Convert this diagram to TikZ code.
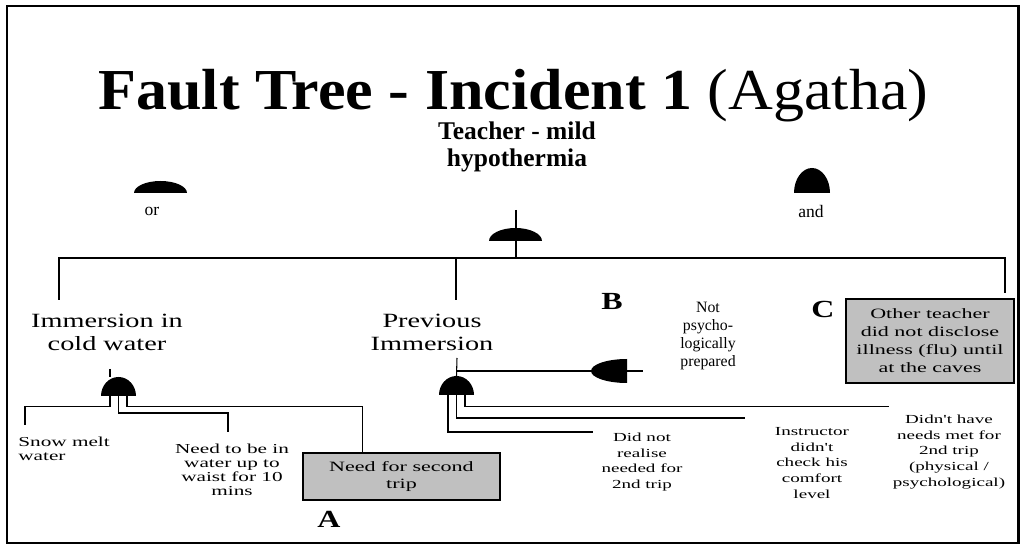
\documentclass[tikz,border=0pt]{standalone}
\usepackage{fontspec}
\setmainfont{Liberation Serif}
\newfontfamily\widefont[FakeStretch=1.55]{Liberation Serif}
\newfontfamily\labelfont[FakeStretch=1.4]{Liberation Serif}
\newfontfamily\letterfont[FakeStretch=1.3]{Liberation Serif}
\newfontfamily\titlefont[FakeStretch=1.07]{Liberation Serif}
\usetikzlibrary{calc}
\usetikzlibrary{positioning}
\definecolor{boxgrey}{RGB}{192,192,192}
\tikzset{
  wire/.style={
    draw=black,
    line width=0.6pt,
  },
  frame/.style={
    draw=black,
    line width=1.7pt,
  },
  titletext/.style={
    inner sep=0pt,
    font=\titlefont\fontsize{33}{36}\selectfont
  },
  headtext/.style={
    align=center,
    inner sep=0pt,
    font=\bfseries\fontsize{14.5}{15.5}\selectfont
  },
  legendtext/.style={
    inner sep=0pt,
    font=\fontsize{10}{12}\selectfont
  },
  mainlabel/.style={
    align=center,
    inner sep=0pt,
    font=\labelfont\fontsize{11.5}{13}\selectfont
  },
  leftlabel/.style={
    align=center,
    inner sep=0pt,
    font=\widefont\fontsize{7.8}{7.9}\selectfont
  },
  rightlabel/.style={
    align=center,
    inner sep=0pt,
    font=\widefont\fontsize{7}{8.9}\selectfont
  },
  plainlabel/.style={
    align=center,
    inner sep=0pt,
    font=\fontsize{9}{10.4}\selectfont
  },
  greybox/.style={
    draw=black,
    fill=boxgrey,
    line width=0.6pt,
    align=center,
    inner sep=0pt,
    font=\widefont\fontsize{8.1}{10.2}\selectfont
  },
  letter/.style={
    inner sep=0pt,
    font=\letterfont\bfseries\fontsize{14}{14}\selectfont
  },
  pics/gate/.style 2 args={code={
    \fill (-#1/2,0) .. controls (-#1/2,-0.552*#2) and (-0.276*#1,-#2) .. (0,-#2)
      .. controls (0.276*#1,-#2) and (#1/2,-0.552*#2) .. (#1/2,0) -- cycle;
    \coordinate (-top) at (0,-#2);
    \coordinate (-a) at (-8.5,0);
    \coordinate (-b) at (0,0);
    \coordinate (-c) at (8.5,0);
  }},
}

\begin{document}
\begin{tikzpicture}[x=0.02cm, y=-0.02cm]
  \useasboundingbox (0,0) rectangle (1021,550);
  \draw[frame] (7,6) rectangle (1018,543);

  \node[titletext, anchor=base west] (title) at (98,110) {\bfseries Fault Tree - Incident 1};
  \node[titletext, anchor=base west, xshift=8.5pt] (agatha) at (title.base east) {(Agatha)};
  \node[headtext] (teacher) at (517,147) {Teacher - mild\\hypothermia};

  % legend
  \pic (legor) at (160.5,193) {gate={53}{12}};
  \node[legendtext] (orlbl) at (152,211) {or};
  \pic (legand) at (812,193) {gate={36}{25}};
  \node[legendtext] (andlbl) at (811,211) {and};

  % top event
  \coordinate (topin) at (516,210);
  \coordinate (bus) at (516,258);
  \draw[wire] (topin) -- (bus);
  \pic (gtop) at (515.5,241) {gate={53}{13}};

  \coordinate (busL) at (59,300);
  \coordinate (busM) at (456,300);
  \coordinate (busR) at (1005,293);
  \draw[wire] (busL) -- (busL |- bus) -- (busR |- bus) -- (busR);
  \draw[wire] (busM |- bus) -- (busM);

  \node[mainlabel] (immersion) at (107,332) {Immersion in\\cold water};
  \node[mainlabel] (previous)  at (432,332) {Previous\\Immersion};
  \node[greybox, minimum width=3.36cm, minimum height=1.68cm] (cbox) at (930,341) {Other teacher\\did not disclose\\illness (flu) until\\at the caves};
  \node[letter, anchor=base] (lc) at (823,318) {C};

  % immersion in cold water
  \pic (gi) at (118.5,396) {gate={35}{19}};
  \coordinate (immout) at (110,369);
  \draw[wire] (immout) -- (immout |- gi-top);

  \node[leftlabel, align=left, anchor=west] (snow) at (18,449) {Snow melt\\water};
  \node[leftlabel] (waist) at (232,470) {Need to be in\\water up to\\waist for 10\\mins};
  \node[greybox, minimum width=3.94cm, minimum height=0.94cm] (abox) at (401.5,476.5) {Need for second\\trip};
  \node[letter, anchor=base] (la) at (329,527) {A};

  \coordinate (snowtop) at (25,425);
  \coordinate (waisttop) at (228,432);
  \draw[wire] (gi-a) -- ++(0,10.5) -| (snowtop);
  \draw[wire] (gi-b) -- ++(0,17) -| (waisttop);
  \draw[wire] (gi-c) -- ++(0,10.5) -| ($(abox.north west)+(60,0)$);

  % previous immersion
  \pic (gp) at (456.5,395) {gate={35}{19}};
  \coordinate (prevout) at (457,358);
  \draw[wire] (prevout) -- (gp-top);

  \pic[rotate=90] (gb) at (627,371) {gate={24}{36}};
  \node[letter, anchor=base] (lb) at (612,310) {B};
  \node[plainlabel] (notprep) at (708,336) {Not\\psycho-\\logically\\prepared};
  \coordinate (notin) at (643,371);
  \draw[wire] (prevout |- gb-top) -- (gb-top);
  \draw[wire] (gb-b) -- (notin);

  \node[rightlabel] (realise) at (642,462) {Did not\\realise\\needed for\\2nd trip};
  \node[rightlabel] (comfort) at (812,463) {Instructor\\didn't\\check his\\comfort\\level};
  \node[rightlabel] (needs)   at (949,452) {Didn't have\\needs met for\\2nd trip\\(physical /\\psychological)};

  \coordinate (realiseend) at (593,432);
  \coordinate (comfortend) at (745,418);
  \coordinate (needsend) at (889,406.5);
  \draw[wire] (gp-a) |- (realiseend);
  \draw[wire] (gp-b) |- (comfortend);
  \draw[wire] (gp-c) |- (needsend);
\end{tikzpicture}
\end{document}
